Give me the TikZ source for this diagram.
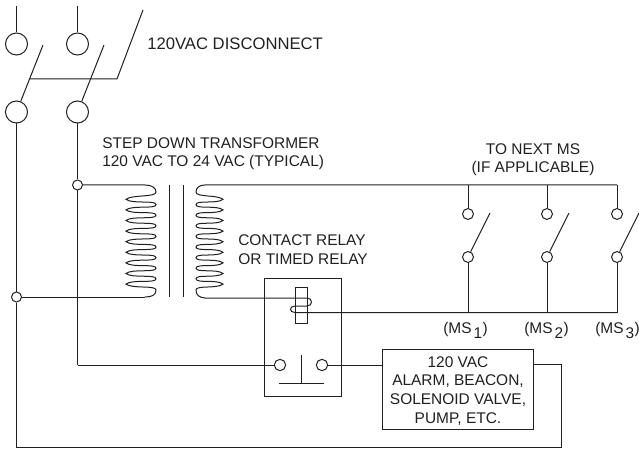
\documentclass[tikz,border=0pt]{standalone}
\usepackage{fontspec}
\setmainfont{Liberation Sans}
\usetikzlibrary{calc}
\definecolor{ink}{HTML}{231F20}
\newcommand{\mslabel}[1]{(MS\hspace{1.5pt}\raisebox{-3.75pt}{#1}\hspace{0.3pt})}
\tikzset{
  wire/.style={draw=ink,line width=0.75pt},
  term/.style={circle,draw=ink,line width=0.75pt,fill=white,inner sep=0pt,minimum size=16.5pt},
  termb/.style={circle,draw=ink,line width=0.75pt,fill=white,inner sep=0pt,minimum size=8pt},
  txt/.style={text=ink,font=\fontsize{11.6}{14}\selectfont,inner sep=0pt},
  box/.style={draw=ink,line width=0.75pt,fill=white,inner sep=0pt}
}
\begin{document}
\begin{tikzpicture}[x=0.75pt,y=-0.75pt]
\useasboundingbox (0,0) rectangle (639,449);
% disconnect
\coordinate (t1) at (16.5,6); \coordinate (t2) at (77.5,6);
\node[term] (a1) at (16.5,44) {};
\node[term] (a2) at (77.5,44) {};
\node[term] (b1) at (16.5,112) {};
\node[term] (b2) at (77.5,112) {};
\coordinate (e1) at (43,45); \coordinate (e2) at (104,45);
\coordinate (barL) at (30,79); \coordinate (barR) at (117,79); \coordinate (barT) at (143,10);
\draw[wire] (t1) -- (a1); \draw[wire] (t2) -- (a2);
\draw[wire] (b1) -- (e1); \draw[wire] (b2) -- (e2);
\draw[wire] (barL) -- (barR) -- (barT);
\node[txt,font=\fontsize{12.5}{15}\selectfont,anchor=base west] (ldis) at (147,50) {120VAC DISCONNECT};
% junctions
\node[termb,minimum size=7.5pt] (j1) at (77.5,185) {};
\node[termb,minimum size=7.5pt] (j2) at (16.5,297) {};
\coordinate (c1) at (77.5,365);
\coordinate (c2) at (16.5,447);
\coordinate (c3) at (561,447);
\coordinate (c4) at (561,364);
\draw[wire] (b2) -- (j1); \draw[wire] (j1) -- (c1);
\draw[wire] (b1) -- (j2); \draw[wire] (j2) -- (c2) -- (c3) -- (c4);
% transformer primary
\coordinate (p1) at (145,185); \coordinate (p2) at (145,297);
\draw[wire] (j1) -- (p1)
  .. controls (152,185) and (156,188) .. (156,192)
  .. controls (156,197.5) and (132,194.5) .. (126,199.3)
  \foreach \y in {199.3,209.9,220.5,231.1,241.7,252.3,262.9,273.5}{
    .. controls (132,\y+5) and (156,\y+0.5) .. (156,\y+5.3)
    .. controls (156,\y+10.1) and (132,\y+5.6) .. (126,\y+10.6)
  }
  .. controls (132,289) and (156,285) .. (156,290)
  .. controls (156,295) and (152,297) .. (145,297);
\draw[wire] (j2) -- (p2);
% core
\coordinate (k1) at (169,185); \coordinate (k2) at (169,297);
\coordinate (k3) at (183,185); \coordinate (k4) at (183,297);
\draw[wire] (k1) -- (k2); \draw[wire] (k3) -- (k4);
% relay box
\node[box,anchor=north west,minimum width=57.5pt,minimum height=88.5pt] (relay) at (264,278) {};
\node[box,minimum width=9pt,minimum height=27pt] (coil) at (301,305) {};
% secondary
\coordinate (s1) at (205,185); \coordinate (s2) at (205,297);
\coordinate (m3top) at (617,185);
\coordinate (y1) at (307,298);
\draw[wire] (m3top) -- (s1)
  .. controls (199,185) and (196,188) .. (196,192)
  .. controls (196,197.5) and (217,194.5) .. (223,199.3)
  \foreach \y in {199.3,209.9,220.5,231.1,241.7,252.3,262.9,273.5}{
    .. controls (217,\y+5) and (196,\y+0.5) .. (196,\y+5.3)
    .. controls (196,\y+10.1) and (217,\y+5.6) .. (223,\y+10.6)
  }
  .. controls (217,289) and (196,285) .. (196,290)
  .. controls (196,295) and (199,297.5) .. (205,298)
  -- (y1) .. controls (313,298) and (313,306) .. (307,306) -- (295,306)
  .. controls (289,306) and (289,312.5) .. (295,312.5) -- (617,312.5);
% contact
\node[termb,minimum size=8.5pt] (k5) at (280,365) {};
\node[termb,minimum size=8.5pt] (k6) at (322,365) {};
\coordinate (pl1) at (301,355); \coordinate (pl2) at (301,383);
\coordinate (pl3) at (279,383); \coordinate (pl4) at (324,383);
\draw[wire] (pl1) -- (pl2); \draw[wire] (pl3) -- (pl4);
\draw[wire] (c1) -- (k5);
\node[box,anchor=north west,minimum width=113.25pt,minimum height=60pt] (load) at (382,349) {};
\node[txt,align=center,anchor=base] (loadtxt) at (458,423)
  {120 VAC\\ALARM, BEACON,\\SOLENOID VALVE,\\PUMP, ETC.};
\draw[wire] (k6) -- (load.west |- k6);
\draw[wire] (load.east |- c4) -- (c4);
% magnetic starters
\foreach \n/\x in {1/468,2/547,3/617}{
  \node[termb,minimum size=8.2pt] (u\n) at (\x,214) {};
  \node[termb,minimum size=8.2pt] (v\n) at (\x,257) {};
  \coordinate (ut\n) at (\x,185);
  \coordinate (vb\n) at (\x,312.5);
  \coordinate (bl\n) at (\x+22,213);
  \draw[wire] (ut\n) -- (u\n);
  \draw[wire] (v\n) -- (vb\n);
  \draw[wire] (v\n) -- (bl\n);
}
% labels
\node[txt,align=left,anchor=base west] (l2) at (102,167) {STEP DOWN TRANSFORMER\\120 VAC TO 24 VAC (TYPICAL)};
\node[txt,align=center,anchor=base] (l4) at (533,173) {TO NEXT MS\\(IF APPLICABLE)};
\node[txt,align=left,anchor=base west] (l5) at (238,264) {CONTACT RELAY\\OR TIMED RELAY};
\node[txt,anchor=base west] (m1) at (443,333) {\mslabel{1}};
\node[txt,anchor=base west] (m2) at (524,333) {\mslabel{2}};
\node[txt,anchor=base west] (m3) at (595,333) {\mslabel{3}};
\end{tikzpicture}
\end{document}
